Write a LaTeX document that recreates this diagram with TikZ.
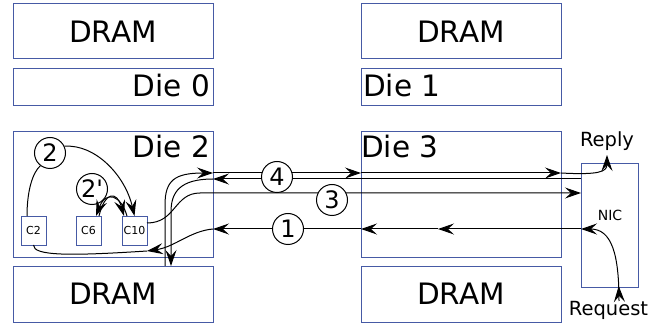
\documentclass[tikz,border=0pt]{standalone}
\usepackage{fontspec}
\setmainfont{DejaVu Sans}
\usetikzlibrary{arrows.meta,decorations.markings}

\definecolor{boxblue}{RGB}{70,90,165}

\tikzset{
  box/.style={draw=boxblue, line width=0.9pt, inner sep=0pt, outer sep=0pt},
  big/.style={font=\fontsize{29.5}{32}\selectfont, inner sep=0pt},
  mid/.style={font=\fontsize{19.5}{22}\selectfont, inner sep=0pt},
  small/.style={font=\fontsize{11}{12}\selectfont, inner sep=0pt},
  wire/.style={line width=1pt, black},
  tipshape/.tip={Stealth[length=16pt,width=11pt,inset=6pt]},
  arr/.style={wire, -tipshape},
  num/.style={circle, draw, fill=white, line width=1pt, minimum size=31pt,
              inner sep=0pt, font=\fontsize{24}{24}\selectfont},
}

\begin{document}
\begin{tikzpicture}[x=1pt,y=-1pt]
\useasboundingbox (0,0) rectangle (662,323);

% ---- boxes: memories, dies, cores, NIC
\node[box, minimum width=200pt, minimum height=55pt] (dram0) at (113,30.5) {};
\node[box, minimum width=200pt, minimum height=37pt] (die0)  at (113,86.5) {};
\node[box, minimum width=200pt, minimum height=55pt] (dram1) at (461,30.5) {};
\node[box, minimum width=200pt, minimum height=37pt] (die1)  at (461,86.5) {};
\node[box, minimum width=200pt, minimum height=126pt] (die2) at (113,194) {};
\node[box, minimum width=200pt, minimum height=126pt] (die3) at (461,194) {};
\node[box, minimum width=200pt, minimum height=56pt] (dram2) at (113,294) {};
\node[box, minimum width=200pt, minimum height=56pt] (dram3) at (461,294) {};
\node[box, minimum width=57pt, minimum height=124pt] (nic) at (609.5,225) {};

\node[box, minimum width=25pt, minimum height=29pt, small] (c2)  at (33.5,230.5) {C2};
\node[box, minimum width=25pt, minimum height=29pt, small] (c6)  at (88.5,230.5) {C6};
\node[box, minimum width=25pt, minimum height=29pt, small] (c10) at (134.5,230.5) {C10};

% ---- labels
\node[big, anchor=base] (tdram0) at (113,43) {DRAM};
\node[big, anchor=base east] (tdie0) at (210,97) {Die 0};
\node[big, anchor=base] (tdram1) at (461,43) {DRAM};
\node[big, anchor=base west] (tdie1) at (363,97) {Die 1};
\node[big, anchor=base east] (tdie2) at (210,158) {Die 2};
\node[big, anchor=base west] (tdie3) at (361,158) {Die 3};
\node[big, anchor=base] (tdram2) at (113,305) {DRAM};
\node[big, anchor=base] (tdram3) at (461,305) {DRAM};
\node[font=\fontsize{14}{15}\selectfont, inner sep=0pt] (tnic) at (610,215) {NIC};
\node[mid, anchor=base] (reply) at (607,147) {Reply};
\node[mid, anchor=base] (request) at (608.5,316) {Request};

% ---- connector end points
\coordinate (replytip) at (607,155);
\coordinate (reqtail) at (619,301);
\coordinate (p4up)  at (165,266);
\coordinate (p4dn)  at (171,266);
\coordinate (d2e4a) at (213,173);
\coordinate (d3w4a) at (361,173);
\coordinate (d3e4a) at (561,173);
\coordinate (nic4b) at (581,179);
\coordinate (d2e4b) at (213,179);
\coordinate (c10e)  at (147,223);
\coordinate (nic3)  at (581,193);
\coordinate (nic1)  at (581,229);
\coordinate (mid1)  at (438,229);
\coordinate (d3w1)  at (361,229);
\coordinate (d2e1)  at (213,229);
\coordinate (bend1) at (147,251);
\coordinate (c2top) at (27,216);

% ---- step 1: request enters the NIC and travels to C2
\draw[arr, postaction={decorate},
      decoration={markings, mark=at position 15pt with {\arrow{tipshape}}}]
  (reqtail) .. controls (619,255) and (612,229) .. (nic1);
\draw[arr] (nic1) -- (mid1);
\draw[arr] (mid1) -- (d3w1);
\draw[arr] (d3w1) -- (d2e1);
\draw[arr] (d2e1) .. controls (190,231) and (175,247) .. (bend1);
\draw[wire] (bend1) .. controls (70,256) and (33,256) .. (c2.south);

% ---- step 2: C2 to C10
\node[num] (n2) at (50,153) {2};
\draw[wire] (c2top) .. controls (27,190) and (33,172) .. (n2.233);
\draw[arr] (n2.25) .. controls (95,144) and (125,175) .. (c10.north);

% ---- step 2': between C6 and C10
\node[num] (n2p) at (92,189) {2\textquotesingle};
\draw[arr] (127,216) .. controls (121,195) and (106,190) .. (96,216);
\draw[arr] (99,216) .. controls (105,191) and (117,191) .. (124,216);

% ---- step 3: C10 to the NIC
\draw[arr] (c10e) .. controls (176,223) and (174,193) .. (200,193) -- (nic3);

% ---- step 4: DRAM to the reply, NIC back to DRAM
\draw[arr] (p4up) -- (165,205) .. controls (165,180) and (175,173) .. (d2e4a);
\draw[arr] (d2e4a) -- (d3w4a);
\draw[arr] (d3w4a) -- (d3e4a);
\draw[arr] (d3e4a) .. controls (598,175) and (607,172) .. (replytip);
\draw[arr] (nic4b) -- (d2e4b);
\draw[arr] (d2e4b) .. controls (180,179) and (171,192) .. (171,212) -- (p4dn);

% ---- step numbers on the links
\node[num] (n4) at (277,177) {4};
\node[num] (n3) at (332,200) {3};
\node[num] (n1) at (288,229) {1};
\end{tikzpicture}
\end{document}
